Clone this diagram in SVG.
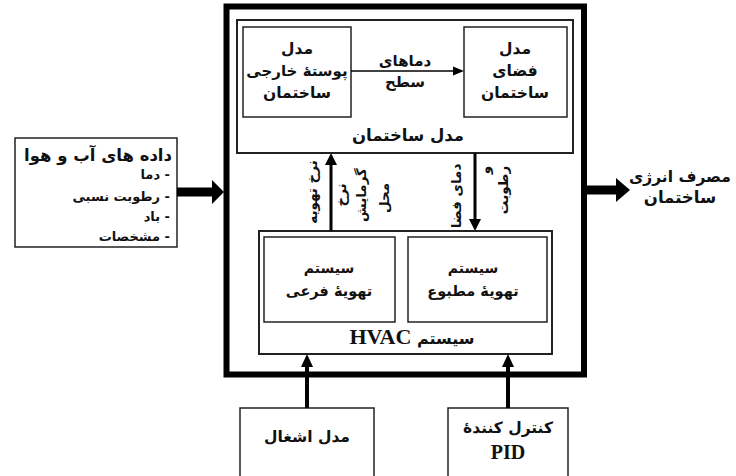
<svg xmlns="http://www.w3.org/2000/svg" width="736" height="476" viewBox="0 0 736 476">
<style>
.box{fill:#fff;stroke:#222;stroke-width:1.5}
.fa{font-family:"DejaVu Sans",sans-serif;font-weight:bold;fill:#111}
.c{text-anchor:middle}
.ln{stroke:#000;fill:none}
</style>
<rect width="736" height="476" fill="#fff"/>
<g id="outer"><rect x="226.5" y="6.5" width="357.5" height="368" fill="none" stroke="#000" stroke-width="6"/></g>
<g id="building-model">
<rect x="237" y="20" width="336" height="133" fill="none" stroke="#222" stroke-width="2"/>
<text class="fa c" x="408" y="141" font-size="16.5">مدل ساختمان</text>
</g>
<g id="envelope">
<rect class="box" x="243" y="27" width="108" height="90"/>
<text class="fa c" x="297" y="54" font-size="15.5">مدل</text>
<text class="fa c" x="297" y="76" font-size="15">پوستهٔ خارجی</text>
<text class="fa c" x="297" y="98" font-size="15.5">ساختمان</text>
</g>
<g id="space">
<rect class="box" x="464" y="27" width="103" height="90"/>
<text class="fa c" x="515" y="54" font-size="15.5">مدل</text>
<text class="fa c" x="515" y="76" font-size="15.5">فضای</text>
<text class="fa c" x="515" y="98" font-size="15.5">ساختمان</text>
</g>
<g id="hvac">
<rect x="259" y="231" width="293" height="123" fill="none" stroke="#222" stroke-width="2"/>
<text class="fa c" x="412" y="344" font-size="16" direction="rtl">سیستم <tspan font-family="Liberation Serif,serif" font-size="22">HVAC</tspan></text>
</g>
<g id="sub-fan">
<rect class="box" x="264" y="237" width="131" height="85"/>
<text class="fa c" x="329" y="273" font-size="14">سیستم</text>
<text class="fa c" x="329" y="296" font-size="14.5">تهویهٔ فرعی</text>
</g>
<g id="forced">
<rect class="box" x="408" y="237" width="139" height="85"/>
<text class="fa c" x="473" y="273" font-size="14">سیستم</text>
<text class="fa c" x="473" y="296" font-size="14.5">تهویهٔ مطبوع</text>
</g>
<g id="weather">
<rect class="box" x="15" y="138" width="162" height="109"/>
<text class="fa" x="172" y="161" font-size="16.5" direction="rtl" text-anchor="start">داده های آب و هوا</text>
<text class="fa" x="170" y="179" font-size="13" direction="rtl" text-anchor="start">- دما</text>
<text class="fa" x="170" y="201" font-size="13" direction="rtl" text-anchor="start">- رطوبت نسبی</text>
<text class="fa" x="170" y="221" font-size="13" direction="rtl" text-anchor="start">- باد</text>
<text class="fa" x="170" y="241" font-size="13" direction="rtl" text-anchor="start">- مشخصات</text>
</g>
<g id="energy">
<text class="fa c" x="680" y="182" font-size="15.5">مصرف انرژی</text>
<text class="fa c" x="680" y="203" font-size="16.5">ساختمان</text>
</g>
<g id="occupancy">
<rect class="box" x="240" y="408" width="134" height="70"/>
<text class="fa c" x="307" y="442" font-size="15.5">مدل اشغال</text>
</g>
<g id="pid">
<rect class="box" x="448" y="408" width="120" height="70"/>
<text class="fa c" x="508" y="433" font-size="15.5">کنترل کنندهٔ</text>
<text x="508" y="459" font-size="20" font-weight="bold" font-family="Liberation Serif,serif" text-anchor="middle" fill="#111">PID</text>
</g>
<g id="connectors">
<line class="ln" x1="351" y1="71" x2="456" y2="71" stroke-width="1.5"/>
<polygon points="464,71 453,66.5 453,75.5" fill="#000"/>
<text class="fa c" x="405" y="66" font-size="15">دماهای</text>
<text class="fa c" x="405" y="87" font-size="15">سطح</text>
<line class="ln" x1="331" y1="231" x2="331" y2="162" stroke-width="3"/>
<polygon points="331,153 325,165 337,165" fill="#000"/>
<line class="ln" x1="475" y1="153" x2="475" y2="222" stroke-width="3"/>
<polygon points="475,231 469,219 481,219" fill="#000"/>
<text class="fa c" font-size="13.5" transform="translate(317,192) rotate(-90)">نرخ تهویه</text>
<text class="fa c" font-size="13.5" transform="translate(346,195) rotate(-90)">نرخ</text>
<text class="fa c" font-size="13.5" transform="translate(366,195) rotate(-90)">گرمایش</text>
<text class="fa c" font-size="13.5" transform="translate(389,198) rotate(-90)">محل</text>
<text class="fa c" font-size="13.5" transform="translate(461,196) rotate(-90)">دمای فضا</text>
<text class="fa c" font-size="13.5" transform="translate(490,170) rotate(-90)">و</text>
<text class="fa c" font-size="13.5" transform="translate(508,190) rotate(-90)">رطوبت</text>
<line class="ln" x1="177" y1="192" x2="214" y2="192" stroke-width="9"/>
<polygon points="224,192 212,180 212,204" fill="#000"/>
<line class="ln" x1="587" y1="190" x2="617" y2="190" stroke-width="9"/>
<polygon points="630,190 616,178 616,202" fill="#000"/>
<line class="ln" x1="307" y1="408" x2="307" y2="364" stroke-width="4"/>
<polygon points="307,354 301,367 313,367" fill="#000"/>
<line class="ln" x1="508" y1="408" x2="508" y2="364" stroke-width="4"/>
<polygon points="508,354 502,367 514,367" fill="#000"/>
</g>
</svg>
